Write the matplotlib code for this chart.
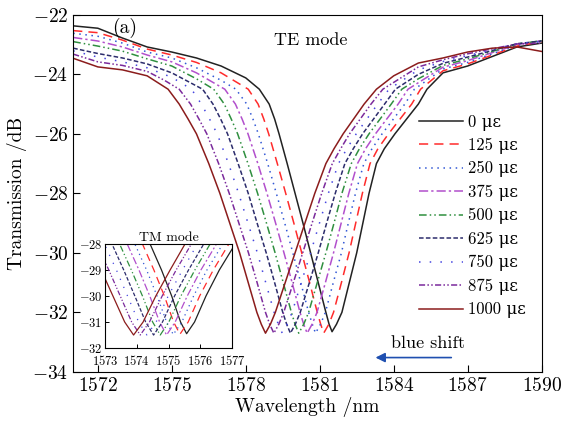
import matplotlib
matplotlib.use('Agg')
import matplotlib.pyplot as plt

plt.rcParams['font.family'] = ['cmr10', 'DejaVu Serif']
plt.rcParams['mathtext.fontset'] = 'cm'
plt.rcParams['axes.formatter.use_mathtext'] = True

strains = [0, 125, 250, 375, 500, 625, 750, 875, 1000]
labels = ['%d \u03bc\u03b5' % s for s in strains]

# transmission levels (dB) at which the dip wavelengths were read
dip_levels = [-24.5, -25, -25.5, -26, -27, -28, -29, -30, -31, -32, -32.4, None,
              -32.4, -32, -31, -30, -29, -28, -27, -26.5, -26, -25, -24.5]
dip_min = [-32.65, -32.7, -32.7, -32.7, -32.7, -32.7, -32.7, -32.7, -32.7]

dip_wl = [
    [1578.55, 1578.95, 1579.17, 1579.35, 1579.68, 1580.0, 1580.32, 1580.63, 1580.94, 1581.25, 1581.38, 1581.5,
     1581.68, 1581.9, 1582.2, 1582.5, 1582.75, 1583.0, 1583.3, 1583.62, 1584.05, 1585.0, 1585.35],
    [1578.1, 1578.5, 1578.73, 1578.93, 1579.28, 1579.62, 1579.95, 1580.27, 1580.59, 1580.9, 1581.04, 1581.16,
     1581.37, 1581.56, 1581.88, 1582.19, 1582.46, 1582.73, 1583.04, 1583.36, 1583.79, 1584.73, 1585.09],
    [1577.6, 1578.04, 1578.29, 1578.51, 1578.89, 1579.24, 1579.58, 1579.91, 1580.23, 1580.55, 1580.7, 1580.83,
     1581.03, 1581.23, 1581.55, 1581.88, 1582.16, 1582.45, 1582.79, 1583.12, 1583.53, 1584.45, 1584.84],
    [1577.15, 1577.58, 1577.85, 1578.09, 1578.49, 1578.86, 1579.21, 1579.55, 1579.88, 1580.2, 1580.35, 1580.49,
     1580.69, 1580.89, 1581.23, 1581.56, 1581.87, 1582.18, 1582.53, 1582.86, 1583.26, 1584.18, 1584.58],
    [1576.7, 1577.13, 1577.41, 1577.67, 1578.09, 1578.48, 1578.84, 1579.19, 1579.52, 1579.85, 1580.0, 1580.15,
     1580.35, 1580.55, 1580.9, 1581.25, 1581.58, 1581.9, 1582.28, 1582.61, 1583.0, 1583.9, 1584.33],
    [1576.25, 1576.67, 1576.98, 1577.26, 1577.69, 1578.1, 1578.46, 1578.83, 1579.17, 1579.5, 1579.66, 1579.81,
     1580.01, 1580.21, 1580.58, 1580.94, 1581.28, 1581.63, 1582.02, 1582.36, 1582.74, 1583.63, 1584.07],
    [1575.8, 1576.2, 1576.53, 1576.84, 1577.3, 1577.71, 1578.09, 1578.47, 1578.81, 1579.15, 1579.32, 1579.48,
     1579.68, 1579.88, 1580.25, 1580.63, 1580.99, 1581.35, 1581.76, 1582.1, 1582.48, 1583.35, 1583.81],
    [1575.3, 1575.76, 1576.1, 1576.42, 1576.9, 1577.33, 1577.72, 1578.11, 1578.46, 1578.8, 1578.97, 1579.14,
     1579.34, 1579.54, 1579.93, 1580.31, 1580.69, 1581.08, 1581.51, 1581.85, 1582.21, 1583.08, 1583.56],
    [1574.85, 1575.3, 1575.66, 1576.0, 1576.5, 1576.95, 1577.35, 1577.75, 1578.1, 1578.45, 1578.63, 1578.8,
     1579.0, 1579.2, 1579.6, 1580.0, 1580.4, 1580.8, 1581.25, 1581.58, 1581.95, 1582.8, 1583.3],
]

left_wl = [
    [1571, 1572, 1573, 1574, 1575, 1576, 1577, 1578],
    [1571, 1572, 1573, 1574, 1575, 1576, 1577],
    [1571, 1572, 1573, 1574, 1575, 1576, 1577],
    [1571, 1572, 1573, 1574, 1575, 1576],
    [1571, 1572, 1573, 1574, 1575, 1576],
    [1571, 1572, 1573, 1574, 1575],
    [1571, 1572, 1573, 1574, 1575],
    [1571, 1572, 1573, 1574, 1574.7],
    [1571, 1572, 1573, 1574],
]
left_tr = [
    [-22.37, -22.45, -22.78, -23.08, -23.25, -23.45, -23.72, -24.12],
    [-22.53, -22.6, -22.85, -23.15, -23.35, -23.6, -23.95],
    [-22.62, -22.72, -22.95, -23.25, -23.45, -23.78, -24.2],
    [-22.76, -22.88, -23.08, -23.35, -23.58, -23.95],
    [-22.9, -23.05, -23.22, -23.48, -23.72, -24.15],
    [-23.12, -23.3, -23.45, -23.65, -23.95],
    [-23.21, -23.42, -23.58, -23.78, -24.1],
    [-23.32, -23.58, -23.7, -23.9, -24.2],
    [-23.46, -23.75, -23.85, -24.05],
]

right_wl = [
    [1586, 1587, 1588, 1589, 1590],
    [1586, 1587, 1588, 1589, 1590],
    [1586, 1587, 1588, 1589, 1590],
    [1586, 1587, 1588, 1589, 1590],
    [1585, 1586, 1587, 1588, 1589, 1590],
    [1585, 1586, 1587, 1588, 1589, 1590],
    [1585, 1586, 1587, 1588, 1589, 1590],
    [1585, 1586, 1587, 1588, 1589, 1590],
    [1584, 1585, 1586, 1587, 1588, 1589, 1590],
]
right_tr = [
    [-23.95, -23.72, -23.4, -23.08, -22.95],
    [-23.88, -23.65, -23.35, -23.05, -22.9],
    [-23.82, -23.6, -23.31, -23.02, -22.88],
    [-23.76, -23.54, -23.27, -23.0, -22.87],
    [-24.15, -23.7, -23.48, -23.23, -22.98, -22.87],
    [-24.0, -23.63, -23.42, -23.2, -22.97, -22.88],
    [-23.85, -23.57, -23.37, -23.17, -22.97, -22.9],
    [-23.75, -23.51, -23.31, -23.14, -22.98, -22.95],
    [-24.05, -23.62, -23.45, -23.25, -23.12, -23.08, -23.23],
]

# inset (TM mode)
inset_levels = [-27.5, -28, -29, -30, -31, None, -31, -30, -29, -28, -27.5]
inset_min = [-31.45, -31.47, -31.48, -31.5, -31.5, -31.5, -31.5, -31.5, -31.5]
inset_wl = [
    [1574.25, 1574.42, 1574.78, 1575.1, 1575.38, 1575.57, 1575.82, 1576.18, 1576.6, 1577.1, 1577.4],
    [1574.01, 1574.18, 1574.54, 1574.87, 1575.16, 1575.36, 1575.62, 1575.98, 1576.41, 1576.9, 1577.19],
    [1573.76, 1573.94, 1574.31, 1574.64, 1574.94, 1575.15, 1575.42, 1575.79, 1576.21, 1576.71, 1576.99],
    [1573.52, 1573.7, 1574.07, 1574.41, 1574.72, 1574.94, 1575.21, 1575.59, 1576.02, 1576.51, 1576.78],
    [1573.28, 1573.46, 1573.83, 1574.18, 1574.5, 1574.74, 1575.01, 1575.39, 1575.83, 1576.31, 1576.58],
    [1573.03, 1573.22, 1573.59, 1573.94, 1574.28, 1574.53, 1574.81, 1575.19, 1575.63, 1576.11, 1576.37],
    [1572.79, 1572.98, 1573.36, 1573.71, 1574.06, 1574.32, 1574.61, 1574.99, 1575.44, 1575.91, 1576.16],
    [1572.54, 1572.74, 1573.12, 1573.48, 1573.84, 1574.11, 1574.4, 1574.8, 1575.24, 1575.72, 1575.96],
    [1572.3, 1572.5, 1572.88, 1573.25, 1573.62, 1573.9, 1574.2, 1574.6, 1575.05, 1575.52, 1575.75],
]

colors = ['#222222', '#ff2b2b', '#3157d5', '#b24fcc', '#2f8f3f',
          '#2c2c6c', '#4646e0', '#7b2a9c', '#8b1c1c']
dashes = [None, (6, 4), (1, 3), (6, 2, 1.5, 2), (5, 2, 1, 2, 1, 2),
          (3, 1.5), (1, 6), (4, 1.5, 1, 1.5, 1, 1.5), None]

fig = plt.figure(figsize=(5.63, 4.24), dpi=100)
ax = fig.add_axes([0.130, 0.123, 0.832, 0.842])

for i in range(len(strains)):
    lev = [dip_min[i] if v is None else v for v in dip_levels]
    x = left_wl[i] + dip_wl[i] + right_wl[i]
    y = left_tr[i] + lev + right_tr[i]
    line, = ax.plot(x, y, color=colors[i], lw=1.1, label=labels[i])
    if dashes[i] is not None:
        line.set_dashes(dashes[i])

ax.set_xlim(1571, 1590)
ax.set_ylim(-34, -22)
ax.set_xticks([1572, 1575, 1578, 1581, 1584, 1587, 1590])
ax.set_yticks([-34, -32, -30, -28, -26, -24, -22])
ax.tick_params(direction='in', labelsize=14, length=5, width=0.8)
ax.set_xlabel('Wavelength /nm', fontsize=14, labelpad=2)
ax.set_ylabel('Transmission /dB', fontsize=14, labelpad=4)

ax.text(1573.1, -22.45, '(a)', fontsize=14, ha='center', va='center')
ax.text(1580.65, -22.85, 'TE mode', fontsize=13, ha='center', va='center')

leg = ax.legend(loc='upper left', bbox_to_anchor=(0.721, 0.745), frameon=False,
                fontsize=12, handlelength=2.6, handletextpad=0.3,
                labelspacing=0.43, borderpad=0)

ax.annotate('', xy=(1583.15, -33.52), xytext=(1586.45, -33.52),
            arrowprops=dict(arrowstyle='-|>', color='#1f4fb0', lw=1.2,
                            mutation_scale=14))
ax.text(1585.4, -33.05, 'blue shift', fontsize=13, ha='center', va='center')

ins = fig.add_axes([0.1865, 0.1792, 0.2256, 0.2453])
for i in range(len(strains)):
    lev = [inset_min[i] if v is None else v for v in inset_levels]
    line, = ins.plot(inset_wl[i], lev, color=colors[i], lw=0.9)
    if dashes[i] is not None:
        line.set_dashes(dashes[i])
ins.set_xlim(1573, 1577)
ins.set_ylim(-32, -28)
ins.set_xticks([1573, 1574, 1575, 1576, 1577])
ins.set_yticks([-32, -31, -30, -29, -28])
ins.tick_params(direction='in', labelsize=9, length=3, width=0.7, pad=2)
ins.tick_params(axis='x', pad=4)
ins.set_title('TM mode', fontsize=10, pad=2)

fig.savefig('out.png', dpi=100)
